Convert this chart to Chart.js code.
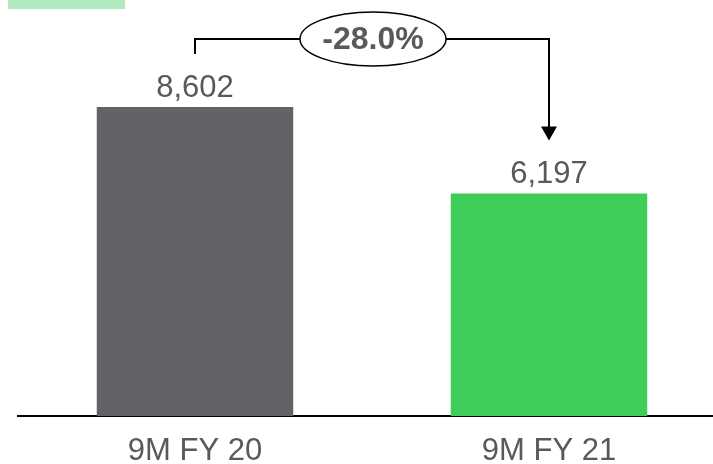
<!DOCTYPE html>
<html>
<head>
<meta charset="utf-8">
<script src="https://cdn.jsdelivr.net/npm/chart.js@4"></script>
<style>
  html, body { margin: 0; padding: 0; background: #fff; overflow: hidden; width: 713px; height: 464px; }
  #wrap { position: relative; width: 726px; height: 464px; }
</style>
</head>
<body>
<div id="wrap"><canvas id="c"></canvas></div>
<script>
// Nine-month totals
const categories = ['9M FY 20', '9M FY 21'];
const values = [8602, 6197];
const barColors = ['#626368', '#3fcd5a'];

const textGrey = '#595959';
const fontFamily = '"Liberation Sans", Arial, sans-serif';

// Year-on-year change shown in the bubble
const changePct = ((values[1] / values[0] - 1) * 100).toFixed(1) + '%';

const annotations = {
  id: 'annotations',
  afterDatasetsDraw(chart) {
    const ctx = chart.ctx;
    const bars = chart.getDatasetMeta(0).data;
    ctx.save();

    // small header swatch
    ctx.fillStyle = '#b1e9be';
    ctx.fillRect(8, 0, 117, 9);

    // value labels above the bars
    ctx.fillStyle = textGrey;
    ctx.font = '31px ' + fontFamily;
    ctx.textAlign = 'center';
    ctx.textBaseline = 'alphabetic';
    bars.forEach((b, i) => {
      ctx.fillText(values[i].toLocaleString('en-US'), b.x, b.y - 10);
    });

    // connector from first bar to second bar
    const x0 = bars[0].x, x1 = bars[1].x;
    const yTop = 39;
    const yStart = bars[0].y - 53;
    const yEnd = bars[1].y - 53;
    ctx.strokeStyle = '#000';
    ctx.lineWidth = 2;
    ctx.beginPath();
    ctx.moveTo(x0, yStart);
    ctx.lineTo(x0, yTop);
    ctx.lineTo(x1, yTop);
    ctx.lineTo(x1, yEnd - 13);
    ctx.stroke();
    ctx.fillStyle = '#000';
    ctx.beginPath();
    ctx.moveTo(x1 - 8, yEnd - 14);
    ctx.lineTo(x1 + 8, yEnd - 14);
    ctx.lineTo(x1, yEnd);
    ctx.closePath();
    ctx.fill();

    // bubble with the percentage change
    const cx = (x0 + x1) / 2 + 1, cy = yTop;
    ctx.beginPath();
    ctx.ellipse(cx, cy, 73, 27, 0, 0, Math.PI * 2);
    ctx.fillStyle = '#fff';
    ctx.fill();
    ctx.lineWidth = 1.5;
    ctx.stroke();
    ctx.fillStyle = textGrey;
    ctx.font = 'bold 32px ' + fontFamily;
    ctx.textBaseline = 'middle';
    ctx.fillText(changePct, cx, cy + 1);
    ctx.restore();
  }
};

new Chart(document.getElementById('c'), {
  type: 'bar',
  data: {
    labels: categories,
    datasets: [{
      data: values,
      backgroundColor: barColors,
      borderWidth: 0,
      barPercentage: 0.555,
      categoryPercentage: 1
    }]
  },
  options: {
    responsive: true,
    maintainAspectRatio: false,
    animation: false,
    devicePixelRatio: 1,
    layout: { padding: { left: 18, right: 0, top: 0, bottom: 0 } },
    plugins: { legend: { display: false }, tooltip: { enabled: false } },
    scales: {
      x: {
        grid: { display: false, drawTicks: false },
        border: { display: true, color: '#000', width: 2 },
        ticks: { color: textGrey, padding: 17, font: { family: fontFamily, size: 31 } },
        afterFit(scale) { scale.height = 48; }
      },
      y: {
        display: false,
        min: 0,
        max: 11580
      }
    }
  },
  plugins: [annotations]
});
</script>
</body>
</html>
